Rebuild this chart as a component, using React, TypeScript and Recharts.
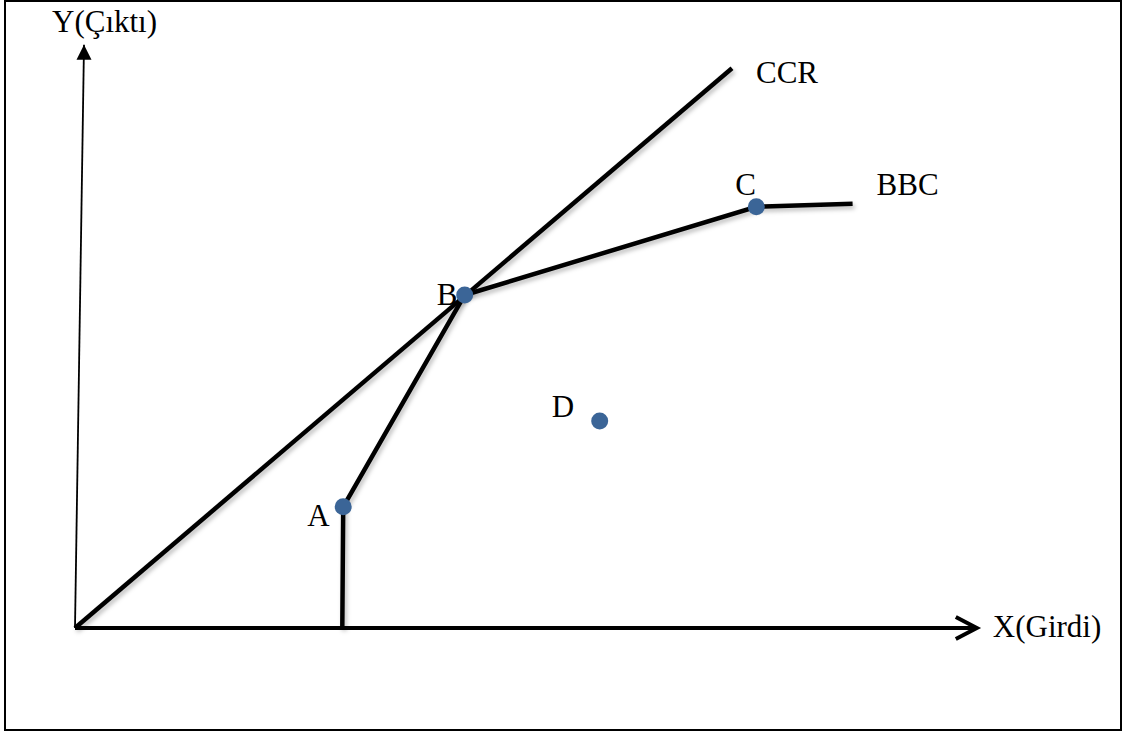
import React from "react";
import { ComposedChart, Line, Scatter, XAxis, YAxis } from "recharts";

// ---- data (chart units) ----
const xAxisLine = [
  { x: 0, y: 0 },
  { x: 100.2, y: 0 },
];
const yAxisLine = [
  { x: 0, y: 0 },
  { x: 1.0, y: 97.2 },
];
const ccrFrontier = [
  { x: 0, y: 0 },
  { x: 73.0, y: 93.3 },
];
const bbcFrontier = [
  { x: 29.7, y: 0 },
  { x: 29.8, y: 20.2 },
  { x: 43.3, y: 55.5 },
  { x: 75.7, y: 70.2 },
  { x: 86.4, y: 70.7 },
];
const unitNames = ["A", "B", "C", "D"];
const unitX = [29.8, 43.3, 75.7, 58.3];
const unitY = [20.2, 55.5, 70.2, 34.5];
const units = unitNames.map((name, i) => ({ name, x: unitX[i], y: unitY[i] }));

const xAxisTitle = "X(Girdi)";
const yAxisTitle = "Y(Çıktı)";
const ccrLabel = "CCR";
const bbcLabel = "BBC";

// ---- styles ----
const FONT = "'Liberation Serif', 'Times New Roman', serif";
const FONT_SIZE = 31;
const DOT_COLOR = "#3b6597";
// label offsets (pixels) relative to each point: [dx, dy(baseline)]
const unitLabelOffset: Record<string, [number, number]> = {
  A: [-36, 19],
  B: [-28, 10],
  C: [-21, -12],
  D: [-48, -4],
};

const YArrow = (props: any) => {
  const { cx, cy, index } = props;
  if (index !== 1) return <g key={`ya-${index}`} />;
  return (
    <g key={`ya-${index}`}>
      <polygon points={`${cx},${cy} ${cx - 7.5},${cy + 15} ${cx + 7.5},${cy + 15}`} fill="#000" />
      <text x={cx - 32} y={cy - 13} fontFamily={FONT} fontSize={FONT_SIZE} fill="#000">
        {yAxisTitle}
      </text>
    </g>
  );
};

const XArrow = (props: any) => {
  const { cx, cy, index } = props;
  if (index !== 1) return <g key={`xa-${index}`} />;
  return (
    <g key={`xa-${index}`}>
      <polyline
        points={`${cx - 21},${cy - 11} ${cx},${cy} ${cx - 21},${cy + 11}`}
        fill="none"
        stroke="#000"
        strokeWidth={4}
        strokeLinejoin="miter"
      />
      <text x={cx + 16} y={cy + 9} fontFamily={FONT} fontSize={FONT_SIZE} fill="#000">
        {xAxisTitle}
      </text>
    </g>
  );
};

const EndLabel = (text: string, dx: number, dy: number) => (props: any) => {
  const { cx, cy, index, points } = props;
  const last = points ? points.length - 1 : 1;
  if (index !== last) return <g key={`el-${text}-${index}`} />;
  return (
    <text key={`el-${text}-${index}`} x={cx + dx} y={cy + dy} fontFamily={FONT} fontSize={FONT_SIZE} fill="#000">
      {text}
    </text>
  );
};

const UnitShape = (props: any) => {
  const { cx, cy, payload } = props;
  const off = unitLabelOffset[payload.name] || [0, 0];
  return (
    <g>
      <circle cx={cx} cy={cy} r={8.5} fill={DOT_COLOR} />
      <text x={cx + off[0]} y={cy + off[1]} fontFamily={FONT} fontSize={FONT_SIZE} fill="#000">
        {payload.name}
      </text>
    </g>
  );
};

export default function App() {
  return (
    <div style={{ position: "fixed", left: 0, top: 0, width: 1127, height: 733, background: "#fff" }}>
      <div
        style={{
          position: "absolute",
          left: 4,
          top: 0,
          width: 1118,
          height: 731,
          border: "2px solid #000",
          boxSizing: "border-box",
        }}
      />
      <div style={{ position: "absolute", left: 0, top: 0 }}>
        <ComposedChart width={1127} height={733} margin={{ left: 75, right: 143, top: 28, bottom: 105 }}>
          <defs>
            <filter id="shadow" x="-10%" y="-10%" width="120%" height="120%">
              <feDropShadow dx="2" dy="3" stdDeviation="2" floodColor="#000" floodOpacity="0.25" />
            </filter>
          </defs>
          <XAxis type="number" dataKey="x" domain={[0, 101]} hide />
          <YAxis type="number" dataKey="y" domain={[0, 100]} hide />
          <Line
            data={yAxisLine}
            dataKey="y"
            stroke="#000"
            strokeWidth={1.8}
            dot={YArrow}
            activeDot={false}
            isAnimationActive={false}
            type="linear"
          />
          <Line
            data={xAxisLine}
            dataKey="y"
            stroke="#000"
            strokeWidth={4}
            dot={XArrow}
            activeDot={false}
            isAnimationActive={false}
            type="linear"
          />
          <Line
            data={ccrFrontier}
            dataKey="y"
            stroke="#000"
            strokeWidth={4.5}
            dot={EndLabel(ccrLabel, 24, 15)}
            activeDot={false}
            isAnimationActive={false}
            type="linear"
            filter="url(#shadow)"
          />
          <Line
            data={bbcFrontier}
            dataKey="y"
            stroke="#000"
            strokeWidth={4.5}
            dot={EndLabel(bbcLabel, 24, -9)}
            activeDot={false}
            isAnimationActive={false}
            type="linear"
            filter="url(#shadow)"
          />
          <Scatter data={units} dataKey="y" shape={UnitShape} isAnimationActive={false} />
        </ComposedChart>
      </div>
    </div>
  );
}
